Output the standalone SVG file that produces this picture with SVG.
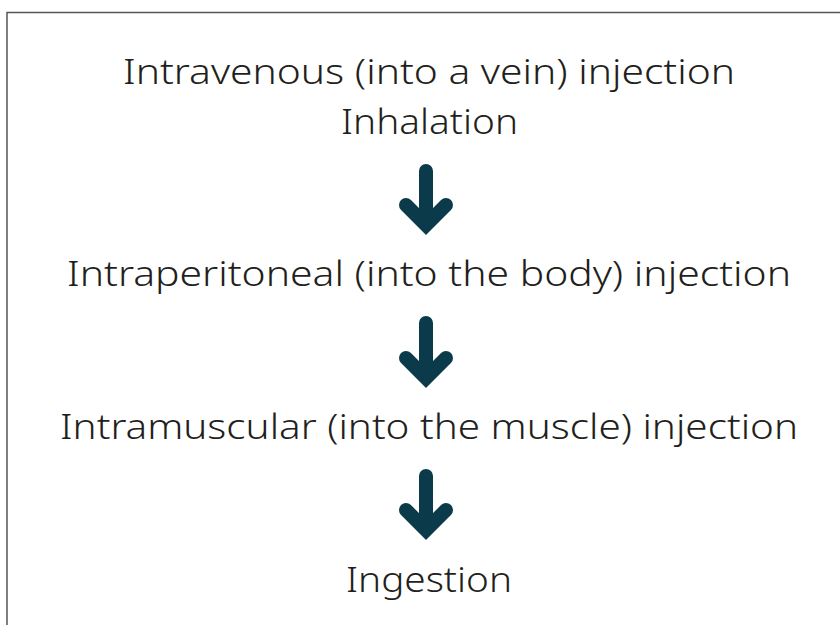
<svg xmlns="http://www.w3.org/2000/svg" width="840" height="625" viewBox="0 0 840 625">
<style>
.t{font-family:"Noto Sans","Liberation Sans",sans-serif;font-size:35px;font-weight:300;fill:#231f20;text-anchor:middle;font-variant-ligatures:none}
.arr{fill:none;stroke:#0b3a4a;stroke-width:14;stroke-linecap:round;stroke-linejoin:miter}
</style>
<rect x="0" y="0" width="840" height="625" fill="#fff"/>
<path d="M7,630 V12.5 H845" fill="none" stroke="#555" stroke-width="1.5"/>
<g id="n1"><text class="t" x="429" y="84" textLength="612" lengthAdjust="spacingAndGlyphs">Intravenous (into a vein) injection</text>
<text class="t" x="429.5" y="134" textLength="177" lengthAdjust="spacingAndGlyphs">Inhalation</text></g>
<g id="n2"><text class="t" x="429" y="286" textLength="724" lengthAdjust="spacingAndGlyphs">Intraperitoneal (into the body) injection</text></g>
<g id="n3"><text class="t" x="429" y="439" textLength="738" lengthAdjust="spacingAndGlyphs">Intramuscular (into the muscle) injection</text></g>
<g id="n4"><text class="t" x="429" y="592" textLength="166" lengthAdjust="spacingAndGlyphs">Ingestion</text></g>
<g id="connectors">
<path class="arr" d="M426,171 V222 M406,205 L426,225 L446,205"/>
<path class="arr" d="M426,323 V375 M406,358 L426,378 L446,358"/>
<path class="arr" d="M426,476 V527 M406,510 L426,530 L446,510"/>
</g>
</svg>
